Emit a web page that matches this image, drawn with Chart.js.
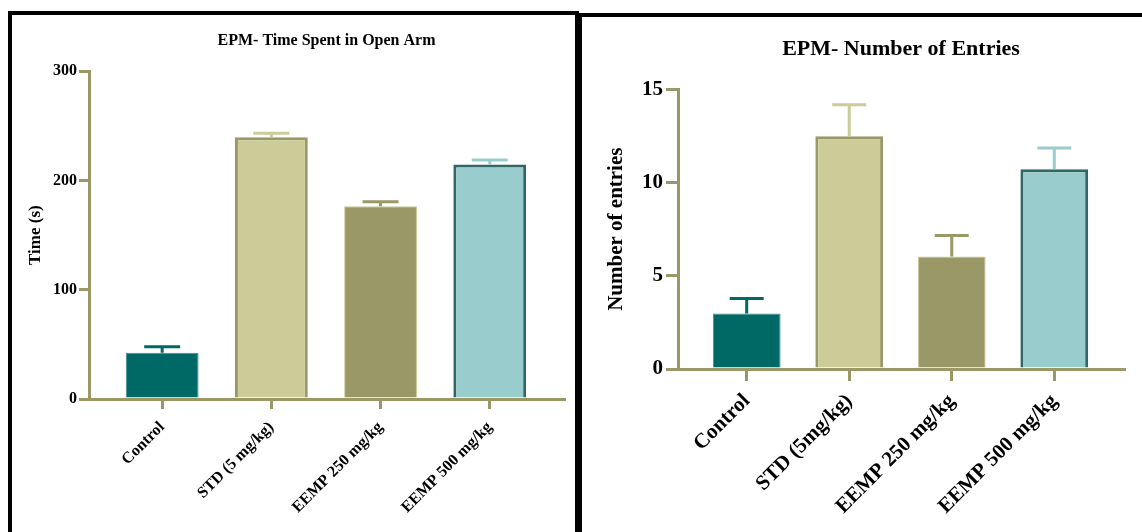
<!DOCTYPE html>
<html>
<head>
<meta charset="utf-8">
<script src="https://cdn.jsdelivr.net/npm/chart.js@4.4.1/dist/chart.umd.min.js"></script>
<style>
  html, body { margin: 0; padding: 0; background: #fff; }
  body { width: 1142px; height: 532px; position: relative; overflow: hidden; }
  .panel { position: absolute; box-sizing: content-box; background: #fff; }
  #panelLeft { left: 8px; top: 11px; width: 563px; height: 530px; border: 4px solid #000; }
  #panelRight { left: 578px; top: 13px; width: 570px; height: 530px; border-top: 4px solid #000; border-left: 4px solid #000; }
  canvas { display: block; }
</style>
</head>
<body>
<div class="panel" id="panelLeft"><canvas id="graficoTiempo" width="563" height="517"></canvas></div>
<div class="panel" id="panelRight"><canvas id="graficoEntradas" width="560" height="515"></canvas></div>

<script>
const grupos = ['Control', 'STD (5 mg/kg)', 'EEMP 250 mg/kg', 'EEMP 500 mg/kg'];
const gruposEntradas = ['Control', 'STD (5mg/kg)', 'EEMP 250 mg/kg', 'EEMP 500 mg/kg'];

const tiempoMedia = [42.3, 239.5, 176.5, 214.7];
const tiempoSem = [5.5, 3.8, 4.0, 4.0];
const tiempoTicks = [0, 100, 200, 300];

const entradasMedia = [2.98, 12.48, 6.04, 10.72];
const entradasSem = [0.8, 1.7, 1.12, 1.13];
const entradasTicks = [0, 5, 10, 15];

const colorEje = '#9a9866';
const relleno = ['#006966', '#cccc99', '#9a9866', '#99cccc'];
const borde = ['#3f8f8c', '#9a9866', '#c8c896', '#336666'];
const colorError = ['#006966', '#cccc99', '#9a9866', '#99cccc'];
const fuente = "'Liberation Serif', 'Times New Roman', serif";

// barras de error (solo hacia arriba)
const barrasError = {
    id: 'barrasError',
    afterDatasetsDraw(chart, args, opts) {
        const ctx = chart.ctx;
        const x = chart.scales.x;
        const y = chart.scales.y;
        ctx.save();
        ctx.lineWidth = 3;
        opts.media.forEach((m, i) => {
            const px = x.getPixelForValue(i);
            const yBase = y.getPixelForValue(m);
            const yTop = y.getPixelForValue(m + opts.sem[i]);
            ctx.strokeStyle = colorError[i];
            ctx.beginPath();
            ctx.moveTo(px, yBase);
            ctx.lineTo(px, yTop);
            ctx.moveTo(px - opts.cap, yTop);
            ctx.lineTo(px + opts.cap, yTop);
            ctx.stroke();
        });
        ctx.restore();
    }
};

function crearGrafico(id, cfg) {
    const ctx = document.getElementById(id).getContext('2d');
    return new Chart(ctx, {
        type: 'bar',
        data: {
            datasets: [{
                data: cfg.media.map((v, i) => ({ x: i, y: v })),
                backgroundColor: relleno,
                borderColor: borde,
                borderWidth: [1, 3, 1, 3],
                borderSkipped: 'bottom',
                categoryPercentage: 1,
                barPercentage: cfg.barPct
            }]
        },
        plugins: [barrasError],
        options: {
            responsive: false,
            maintainAspectRatio: false,
            animation: false,
            layout: { padding: { left: 0, right: cfg.padRight, top: 0, bottom: 0 } },
            plugins: {
                legend: { display: false },
                tooltip: { enabled: false },
                title: {
                    display: true,
                    fullSize: false,
                    text: cfg.titulo,
                    color: '#000',
                    font: { family: fuente, size: cfg.tituloSize, weight: 'bold' },
                    padding: cfg.tituloPad
                },
                barrasError: { media: cfg.media, sem: cfg.sem, cap: cfg.cap }
            },
            scales: {
                x: {
                    type: 'linear',
                    offset: false,
                    min: -0.67,
                    max: cfg.grupos.length - 0.32,
                    z: 1,
                    border: { display: true, color: colorEje, width: 3 },
                    grid: { display: true, offset: false, drawOnChartArea: false, drawTicks: true, tickLength: cfg.tickLen, color: colorEje, lineWidth: 3 },
                    ticks: {
                        stepSize: 1,
                        includeBounds: false,
                        autoSkip: false,
                        maxRotation: 45,
                        minRotation: 45,
                        padding: cfg.xPad,
                        color: '#000',
                        font: { family: fuente, size: cfg.xSize, weight: 'bold' },
                        callback: v => cfg.grupos[v] !== undefined ? cfg.grupos[v] : ''
                    },
                    afterBuildTicks: s => {
                        s.ticks = s.ticks.filter(t => Number.isInteger(t.value) && t.value >= 0 && t.value < cfg.grupos.length);
                    },
                    afterFit: s => { s.height = cfg.xAlto; }
                },
                y: {
                    min: 0,
                    max: cfg.ticks[cfg.ticks.length - 1],
                    border: { display: true, color: colorEje, width: 3 },
                    grid: { display: true, drawOnChartArea: false, drawTicks: true, tickLength: cfg.tickLen, color: colorEje, lineWidth: 3 },
                    ticks: {
                        stepSize: cfg.ticks[1] - cfg.ticks[0],
                        padding: cfg.yPad,
                        color: '#000',
                        font: { family: fuente, size: cfg.ySize, weight: 'bold' }
                    },
                    afterBuildTicks: s => { s.ticks = cfg.ticks.map(v => ({ value: v })); },
                    title: {
                        display: true,
                        text: cfg.yTitulo,
                        color: '#000',
                        font: { family: fuente, size: cfg.yTituloSize, weight: 'bold' },
                        padding: { top: cfg.yTituloPad, bottom: 0 }
                    },
                    afterFit: s => { s.width = cfg.yAncho; }
                }
            }
        }
    });
}

crearGrafico('graficoTiempo', {
    grupos: grupos,
    media: tiempoMedia,
    sem: tiempoSem,
    ticks: tiempoTicks,
    titulo: 'EPM- Time Spent in Open Arm',
    tituloSize: 16,
    tituloPad: { top: 16, bottom: 21 },
    yTitulo: 'Time (s)',
    yTituloSize: 17,
    yTituloPad: 13,
    ySize: 16,
    yPad: 2,
    xSize: 16,
    xPad: 9,
    tickLen: 10,
    yAncho: 77,
    xAlto: 133,
    padRight: 11,
    barPct: 0.667,
    cap: 18
});

crearGrafico('graficoEntradas', {
    grupos: gruposEntradas,
    media: entradasMedia,
    sem: entradasSem,
    ticks: entradasTicks,
    titulo: 'EPM- Number of Entries',
    tituloSize: 22,
    tituloPad: { top: 19, bottom: 27 },
    yTitulo: 'Number of entries',
    yTituloSize: 21,
    yTituloPad: 22,
    ySize: 21,
    yPad: 3,
    xSize: 21,
    xPad: 8,
    tickLen: 12,
    yAncho: 96,
    xAlto: 163,
    padRight: 18,
    barPct: 0.661,
    cap: 17
});
</script>
</body>
</html>
